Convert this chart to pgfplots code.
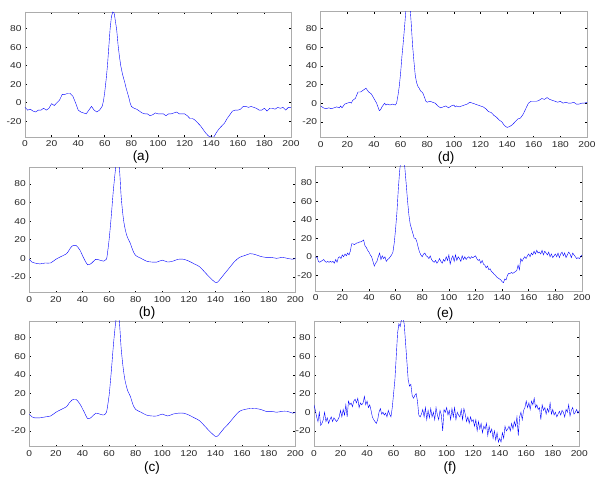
\documentclass[border=0pt]{standalone}
\usepackage{fontspec}
\setmainfont{Liberation Sans}
\newfontfamily\tickfont[FakeStretch=1.2]{Liberation Sans}
\usepackage{pgfplots}
\pgfplotsset{compat=1.18}
\definecolor{sig}{RGB}{165,165,255}

\pgfplotsset{
  panel/.style={
    scale only axis,
    anchor=south west,
    xmin=0, xmax=200, ymin=-37, ymax=98,
    xtick={0,20,...,200}, ytick={-20,0,20,40,60,80},
    tick align=inside,
    major tick length=2pt,
    axis line style={gray!65, line width=0.5pt},
    tick style={black, line width=0.6pt},
    ticklabel style={font=\tickfont\fontsize{8.5}{10}\selectfont, text=black!85},
    /pgf/number format/assume math mode=true,
    every axis plot/.append style={sig, line width=0.4pt, no marks},
  },
}
\newcommand{\lab}{\fontsize{13.5}{15}\selectfont}

\begin{document}
\begin{tikzpicture}
\useasboundingbox (0,0) rectangle (600pt,492pt);

% (a)
\begin{axis}[panel, at={(25pt,355pt)}, width=266pt, height=125pt]
\addplot coordinates {(0,-5)(2,-8)(4,-7)(6,-9)(8,-10)(10,-8)(12,-8)(14,-6)(16,-8)(18,-6)(20,-1)(22,-3)(24,0)(26,3)(28,9)(30,9)(32,10)(34,10)(36,7)(38,0)(40,-8)(42,-10)(44,-11)(46,-12)(48,-8)(50,-4)(52,-8)(54,-10)(56,-8)(58,-4)(59,2)(60,12)(61,25)(62,40)(63,60)(64,80)(65,93)(66,98)(67,97)(68,88)(69,78)(70,62)(71,50)(72,40)(73,33)(74,27)(75,22)(76,16)(77,11)(78,6)(79,0)(80,-4)(82,-6)(84,-7)(86,-9)(88,-11)(90,-12)(92,-12)(94,-14)(96,-13)(98,-11)(100,-12)(102,-12)(104,-12)(106,-14)(108,-12)(110,-12)(112,-11)(114,-10)(116,-12)(118,-12)(120,-12)(122,-14)(124,-17)(126,-17)(128,-19)(130,-22)(132,-25)(134,-29)(136,-33)(138,-36)(140,-37)(142,-37)(144,-32)(146,-28)(148,-25)(150,-22)(152,-17)(154,-13)(156,-9)(158,-8)(160,-8)(162,-7)(164,-4)(166,-4)(168,-5)(170,-4)(172,-5)(174,-6)(176,-8)(178,-8)(180,-6)(182,-9)(184,-6)(186,-6)(188,-7)(190,-5)(192,-6)(194,-5)(196,-8)(198,-5)(200,-5)};
\end{axis}

% (d)
\begin{axis}[panel, at={(320.7pt,354.3pt)}, width=266.3pt, height=126pt]
\addplot coordinates {(0,-3)(2,-5)(4,-6)(6,-5)(8,-6)(10,-5)(12,-4)(14,-5)(15,-3)(16,-5)(18,-1)(20,0)(22,1)(23,0)(24,3)(26,5)(28,12)(30,12)(32,14)(33,15)(34,16)(36,12)(38,10)(40,5)(42,0)(44,-8)(45,-7)(46,-4)(48,0)(49,-2)(50,-1)(52,-2)(54,-1)(56,-2)(57,0)(58,8)(59,18)(60,32)(61,50)(62,65)(63,82)(64,100)(65,110)(66,112)(67,105)(68,85)(69,62)(70,45)(71,30)(72,22)(73,18)(74,16)(75,13)(76,12)(77,10)(78,6)(79,2)(80,1)(82,2)(84,1)(86,0)(88,-3)(90,-5)(92,-4)(94,-3)(96,-5)(98,-3)(100,-2)(101,-4)(102,-3)(104,-4)(106,-3)(108,-2)(110,-1)(112,1)(114,0)(116,-1)(118,-2)(120,-3)(122,-4)(124,-6)(126,-9)(128,-10)(130,-13)(132,-15)(134,-18)(136,-20)(138,-24)(140,-26)(142,-25)(144,-23)(146,-20)(148,-17)(150,-16)(152,-12)(154,-6)(156,0)(158,2)(160,2)(162,2)(164,3)(166,5)(168,4)(170,6)(172,4)(174,3)(176,2)(178,1)(180,2)(182,0)(184,1)(186,0)(188,0)(190,1)(192,-1)(194,-1)(196,0)(198,0)(200,1)};
\end{axis}

% (b)
\begin{axis}[panel, at={(29.3pt,199.3pt)}, width=266pt, height=125.4pt]
\addplot+[smooth] coordinates {(0,-1)(2,-4)(4,-5)(8,-6)(12,-5)(16,-5)(20,-1)(24,2)(28,5)(30,9)(32,13)(35,14)(38,9)(41,0)(44,-7)(47,-5)(50,-1)(53,-2)(56,-3)(58,-1)(59,8)(60,20)(61,35)(62,52)(63,70)(64,85)(65,98)(66,106)(67,106)(68,92)(69,68)(70,52)(71,40)(72,32)(73,26)(74,22)(75,19)(76,16)(78,8)(80,3)(84,0)(88,-3)(92,-4)(96,-4)(100,-2)(104,-4)(108,-3)(112,-1)(116,-1)(120,-3)(124,-6)(128,-9)(132,-15)(136,-21)(140,-26)(142,-25)(146,-18)(150,-11)(154,-4)(158,1)(162,3)(166,5)(170,4)(174,2)(178,1)(182,1)(186,0)(190,1)(194,0)(198,-1)(200,0)};
\end{axis}

% (e)
\begin{axis}[panel, at={(315.7pt,201pt)}, width=266.3pt, height=125pt]
\addplot coordinates {(0,-1)(1,0)(2,-5)(3,-6)(4,-5)(5,-4)(6,-3)(7,-5)(8,-6)(9,-5)(10,-6)(11,-5)(12,-6)(13,-5)(14,-7)(15,-3)(16,-6)(17,-1)(18,0)(19,-2)(20,2)(21,0)(22,3)(23,1)(24,4)(25,2)(26,6)(27,14)(28,14)(29,13)(30,14)(31,15)(32,15)(33,16)(34,16)(35,17)(36,18)(37,12)(38,10)(39,7)(40,5)(41,2)(42,0)(43,-5)(44,-10)(45,-7)(46,-5)(47,0)(48,4)(49,-3)(50,1)(51,-2)(52,0)(53,-5)(54,-3)(55,-2)(56,0)(57,2)(58,5)(59,15)(60,30)(61,48)(62,72)(63,92)(64,105)(65,110)(66,108)(67,95)(68,78)(69,60)(70,45)(71,35)(72,30)(73,25)(74,20)(75,20)(76,16)(77,10)(78,5)(79,2)(80,0)(81,3)(82,4)(83,1)(84,0)(85,-2)(86,1)(87,-3)(88,-5)(89,-6)(90,-4)(91,-7)(92,-5)(93,-2)(94,-5)(95,-7)(96,-3)(97,-5)(98,0)(99,-4)(100,2)(101,-8)(102,-2)(103,1)(104,-5)(105,2)(106,-4)(107,0)(108,-2)(109,-5)(110,1)(111,-3)(112,0)(113,-3)(114,-1)(115,0)(116,-2)(117,0)(118,-1)(119,0)(120,1)(121,-2)(122,-4)(123,-3)(124,-7)(125,-4)(126,-8)(127,-9)(128,-12)(129,-10)(130,-14)(131,-13)(132,-16)(133,-17)(134,-19)(135,-20)(136,-22)(137,-23)(138,-24)(139,-25)(140,-27)(141,-28)(142,-24)(143,-25)(144,-20)(145,-18)(146,-18)(147,-17)(148,-18)(149,-17)(150,-16)(151,-15)(152,-9)(153,-14)(154,-2)(155,-5)(156,-2)(157,0)(158,-2)(159,1)(160,3)(161,0)(162,4)(163,2)(164,6)(165,3)(166,7)(167,4)(168,5)(169,3)(170,7)(171,2)(172,6)(173,4)(174,2)(175,5)(176,0)(177,3)(178,-1)(179,1)(180,3)(181,0)(182,4)(183,-1)(184,3)(185,5)(186,1)(187,4)(188,-1)(189,2)(190,5)(191,3)(192,-1)(193,4)(194,2)(195,0)(196,-2)(197,-1)(198,-2)(199,0)(200,2)};
\end{axis}

% (c)
\begin{axis}[panel, at={(29.3pt,45.3pt)}, width=266pt, height=125.7pt]
\addplot+[smooth] coordinates {(0,-2)(2,-5)(4,-6)(8,-6)(12,-5)(16,-4)(20,0)(24,3)(28,6)(30,10)(32,13)(35,14)(38,9)(41,1)(44,-7)(47,-5)(50,-1)(53,-2)(56,-3)(58,0)(59,8)(60,18)(61,33)(62,50)(63,68)(64,84)(65,97)(66,106)(67,106)(68,92)(69,70)(70,55)(71,43)(72,34)(73,28)(74,23)(75,20)(76,17)(78,8)(80,3)(84,0)(88,-3)(92,-4)(96,-4)(100,-2)(104,-4)(108,-2)(112,-1)(116,-1)(120,-3)(124,-6)(128,-9)(132,-15)(136,-21)(140,-26)(142,-25)(146,-18)(150,-12)(154,-5)(158,1)(162,3)(166,4)(170,4)(174,3)(178,1)(182,1)(186,0)(190,1)(194,1)(198,-1)(200,0)};
\end{axis}

% (f)
\begin{axis}[panel, at={(314pt,45.3pt)}, width=265.3pt, height=125.7pt]
\addplot coordinates {(0,8)(1,2)(2,-5)(3,-10)(4,0)(5,-14)(6,-12)(7,-8)(8,0)(9,-10)(10,-6)(11,-12)(12,-8)(13,-5)(14,-10)(15,-6)(16,-8)(17,-10)(18,-8)(19,-5)(20,2)(21,-5)(22,3)(23,-3)(24,8)(25,-5)(26,12)(27,8)(28,10)(29,6)(30,12)(31,14)(32,10)(33,15)(34,5)(35,10)(36,8)(37,10)(38,17)(39,8)(40,12)(41,5)(42,8)(43,2)(44,-5)(45,-8)(46,-10)(47,-12)(48,-8)(49,0)(50,4)(51,-2)(52,0)(53,-3)(54,-1)(55,-5)(56,2)(57,-2)(58,-5)(59,5)(60,20)(61,35)(62,60)(63,85)(64,95)(65,92)(66,100)(67,102)(68,95)(69,75)(70,55)(71,35)(72,28)(73,30)(74,18)(75,15)(76,18)(77,20)(78,12)(79,-3)(80,-5)(81,-2)(82,3)(83,-5)(84,5)(85,-8)(86,2)(87,-6)(88,4)(89,-5)(90,0)(91,-8)(92,5)(93,-3)(94,-8)(95,2)(96,-3)(97,-20)(98,3)(99,0)(100,5)(101,-3)(102,2)(103,-8)(104,4)(105,-5)(106,5)(107,-8)(108,0)(109,-3)(110,-5)(111,3)(112,-8)(113,4)(114,-2)(115,-10)(116,-5)(117,-12)(118,-5)(119,-10)(120,-8)(121,-15)(122,-8)(123,-20)(124,-10)(125,-18)(126,-12)(127,-22)(128,-15)(129,-18)(130,-12)(131,-25)(132,-15)(133,-22)(134,-18)(135,-28)(136,-20)(137,-30)(138,-22)(139,-32)(140,-28)(141,-32)(142,-22)(143,-28)(144,-15)(145,-20)(146,-18)(147,-15)(148,-20)(149,-12)(150,-18)(151,-10)(152,-15)(153,-5)(154,-25)(155,-5)(156,0)(157,-8)(158,2)(159,5)(160,12)(161,5)(162,10)(163,3)(164,12)(165,8)(166,15)(167,5)(168,8)(169,3)(170,5)(171,-8)(172,8)(173,2)(174,5)(175,-2)(176,4)(177,0)(178,10)(179,-2)(180,3)(181,-3)(182,0)(183,-5)(184,-2)(185,1)(186,-3)(187,2)(188,0)(189,-5)(190,3)(191,0)(192,8)(193,-4)(194,2)(195,5)(196,-2)(197,0)(198,3)(199,-1)(200,2)};
\end{axis}

\node[font=\lab] at (141pt,335pt) {(a)};
\node[font=\lab] at (446pt,334pt) {(d)};
\node[font=\lab] at (147pt,179pt) {(b)};
\node[font=\lab] at (445pt,178pt) {(e)};
\node[font=\lab] at (152pt,24pt) {(c)};
\node[font=\lab] at (450pt,24pt) {(f)};
\end{tikzpicture}
\end{document}
